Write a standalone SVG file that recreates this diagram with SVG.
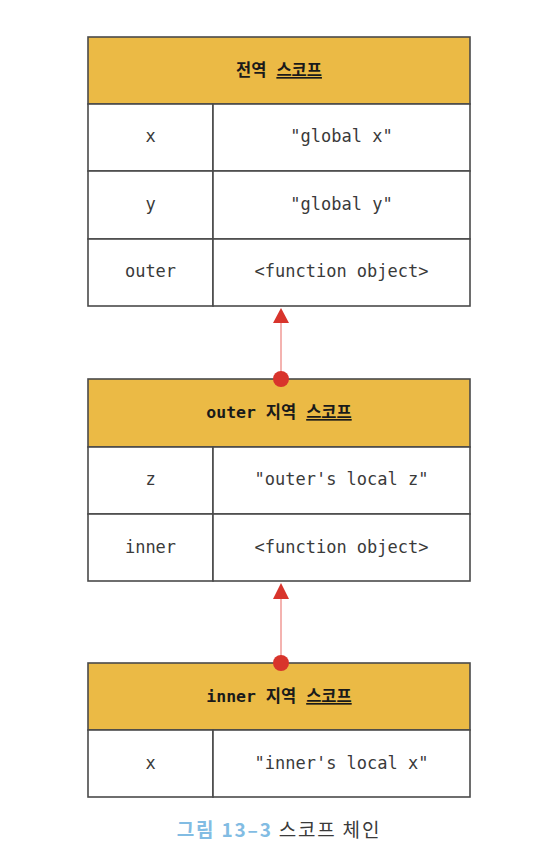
<svg xmlns="http://www.w3.org/2000/svg" width="554" height="854" viewBox="0 0 554 854">
<defs>
<style>
.hdr{fill:#EBBA45;stroke:#4a4a4a;stroke-width:1.6}
.cell{fill:#ffffff;stroke:#4a4a4a;stroke-width:1.6}
.ht{font-family:"DejaVu Sans Mono","Noto Sans CJK KR",monospace;font-weight:bold;font-size:16.5px;fill:#1a1a1a;text-anchor:middle}
.ct{font-family:"DejaVu Sans Mono","Liberation Mono",monospace;font-size:17px;fill:#3a3a3a;text-anchor:middle}
.ul{text-decoration:underline}
.link{stroke:#EE8A86;stroke-width:1.3;fill:none}
.dot{fill:#D8342C}
</style>
</defs>
<rect width="554" height="854" fill="#ffffff"/>
<g id="global-scope">
<rect class="hdr" x="88" y="37" width="382" height="67"/>
<text class="ht" x="279" y="76">전역 <tspan class="ul">스코프</tspan></text>
<rect class="cell" x="88" y="104" width="125" height="67"/>
<rect class="cell" x="213" y="104" width="257" height="67"/>
<text class="ct" x="150.5" y="142">x</text>
<text class="ct" x="341.5" y="142">"global x"</text>
<rect class="cell" x="88" y="171" width="125" height="68"/>
<rect class="cell" x="213" y="171" width="257" height="68"/>
<text class="ct" x="150.5" y="210">y</text>
<text class="ct" x="341.5" y="210">"global y"</text>
<rect class="cell" x="88" y="239" width="125" height="67"/>
<rect class="cell" x="213" y="239" width="257" height="67"/>
<text class="ct" x="150.5" y="277">outer</text>
<text class="ct" x="341.5" y="277">&lt;function object&gt;</text>
</g>
<g id="outer-scope">
<rect class="hdr" x="88" y="379" width="382" height="68"/>
<text class="ht" x="279" y="418">outer 지역 <tspan class="ul">스코프</tspan></text>
<rect class="cell" x="88" y="447" width="125" height="67"/>
<rect class="cell" x="213" y="447" width="257" height="67"/>
<text class="ct" x="150.5" y="485">z</text>
<text class="ct" x="341.5" y="485">"outer's local z"</text>
<rect class="cell" x="88" y="514" width="125" height="67"/>
<rect class="cell" x="213" y="514" width="257" height="67"/>
<text class="ct" x="150.5" y="553">inner</text>
<text class="ct" x="341.5" y="553">&lt;function object&gt;</text>
</g>
<g id="inner-scope">
<rect class="hdr" x="88" y="663" width="382" height="67"/>
<text class="ht" x="279" y="702">inner 지역 <tspan class="ul">스코프</tspan></text>
<rect class="cell" x="88" y="730" width="125" height="67"/>
<rect class="cell" x="213" y="730" width="257" height="67"/>
<text class="ct" x="150.5" y="769">x</text>
<text class="ct" x="341.5" y="769">"inner's local x"</text>
</g>
<g id="connectors">
<line class="link" x1="281" y1="379" x2="281" y2="320"/>
<polygon class="dot" points="281,308 289,323 273,323"/>
<circle class="dot" cx="281" cy="379" r="8"/>
<line class="link" x1="281" y1="663" x2="281" y2="596"/>
<polygon class="dot" points="281,583 289,599 273,599"/>
<circle class="dot" cx="281" cy="663" r="8"/>
</g>
<g id="caption">
<text x="279" y="837" text-anchor="middle" font-family="'Noto Sans CJK KR','Noto Sans',sans-serif" font-size="19px" letter-spacing="1.8"><tspan fill="#82BCE3" font-weight="bold">그림 13–3</tspan><tspan fill="#3a3a3a"> 스코프 체인</tspan></text>
</g>
</svg>
